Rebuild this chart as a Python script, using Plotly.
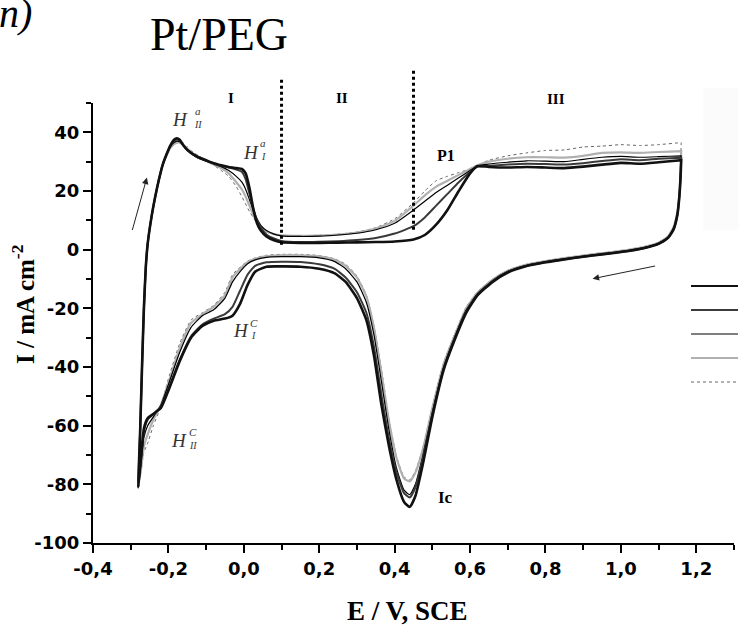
import numpy as np
import plotly.graph_objects as go

# ---------------- data ----------------
E_ANODIC = [-0.280, -0.275, -0.270, -0.265, -0.260, -0.255, -0.245, -0.235, -0.225, -0.215,
            -0.205, -0.195, -0.185, -0.178, -0.170, -0.160, -0.150, -0.140, -0.120, -0.100,
            -0.080, -0.060, -0.040, -0.020, -0.005, 0.005, 0.015, 0.025, 0.035, 0.045,
            0.060, 0.080, 0.100, 0.150, 0.200, 0.250, 0.300, 0.350, 0.400, 0.450,
            0.480, 0.510, 0.540, 0.570, 0.600, 0.620, 0.650, 0.700, 0.750, 0.800,
            0.850, 0.900, 0.950, 1.000, 1.050, 1.100, 1.160]

E_CATHODIC = [1.160, 1.158, 1.155, 1.150, 1.140, 1.125, 1.100, 1.060, 1.000, 0.950,
              0.900, 0.850, 0.800, 0.750, 0.700, 0.660, 0.620, 0.590, 0.560, 0.530,
              0.500, 0.475, 0.455, 0.440, 0.425, 0.405, 0.385, 0.365, 0.345, 0.325,
              0.300, 0.270, 0.240, 0.200, 0.150, 0.100, 0.060, 0.030, 0.010, -0.010,
              -0.030, -0.050, -0.080, -0.110, -0.140, -0.170, -0.200, -0.220, -0.240, -0.255,
              -0.265, -0.272, -0.280]

I1_ANODIC = [-81, -62, -40, -20, -6, 2, 11, 18, 24, 29,
             32.5, 35.5, 37.5, 38, 37.5, 35.5, 34, 33, 31.5, 30.5,
             29.5, 28.8, 28.2, 27.8, 27.5, 26, 21, 14, 9, 6.5,
             4.5, 3.2, 2.5, 2.3, 2.3, 2.4, 2.5, 2.6, 2.8, 3.5,
             5, 8.5, 13.5, 20, 26, 28.5, 28.2, 28, 28.2, 28,
             27.8, 28.3, 29, 29.6, 29.3, 29.8, 30.5]
I1_CATHODIC = [30.5, 24, 18, 12, 7, 4, 2, 0.5, -0.8, -1.6,
               -2.4, -3.3, -4.3, -5.6, -7.8, -11, -15.5, -21.5, -30.5, -41,
               -57, -73, -84, -87.7, -86, -78.5, -67, -53, -36, -24,
               -16.5, -11, -8, -6.5, -5.8, -5.7, -5.8, -7.5, -12, -18.5,
               -22.5, -23.5, -24.2, -26, -30, -38, -48, -54, -56, -57.5,
               -61, -70, -81]

I2_ANODIC = [-81, -62, -40, -20, -6, 2, 11, 18, 24, 29,
             32.5, 35.3, 37, 37.5, 37.2, 35.5, 34, 33, 31.3, 30.3,
             29.3, 28.5, 28, 27.3, 26.5, 24, 19, 14, 10, 7.5,
             5.2, 3.8, 3.0, 2.6, 2.7, 2.9, 3.3, 4, 5.5, 8,
             11, 15, 19, 23, 26.5, 28.3, 28.6, 29, 29.3, 29.2,
             29, 29.5, 30.2, 30.8, 30.5, 31, 31.3]
I2_CATHODIC = [31.3, 24, 18, 12, 7, 4, 2, 0.5, -0.8, -1.6,
               -2.4, -3.3, -4.3, -5.5, -7.6, -10.8, -15.2, -21, -30, -40.5,
               -56, -71, -81, -84.5, -83, -76, -64.5, -49.5, -33, -21.5,
               -14.5, -9.5, -6.5, -5, -4.2, -4.1, -4.3, -5.5, -8.5, -14,
               -19.5, -22, -23.5, -25.5, -29.5, -37.5, -47.5, -53.5, -56, -58,
               -62, -70, -81]

I3_ANODIC = [-81, -62, -40, -20, -6, 2, 11, 18, 24, 29,
             32.3, 35, 36.5, 37, 36.8, 35.5, 34, 32.8, 31.2, 30.2,
             29.3, 28.3, 27, 25, 23, 20.5, 17, 13.5, 10.5, 8.3,
             6.5, 5.3, 4.7, 4.5, 4.6, 5, 5.6, 6.8, 9, 13.5,
             16.5, 19.5, 22, 24.5, 27, 28.6, 29.2, 29.8, 30.3, 30.2,
             30, 30.8, 31.5, 31.8, 31.5, 31.7, 32]
I3_CATHODIC = [32, 25, 18.5, 12.5, 7.5, 4.3, 2.2, 0.7, -0.6, -1.4,
               -2.2, -3.1, -4.1, -5.3, -7.4, -10.5, -15, -20.5, -29.5, -40,
               -55.5, -70, -80, -83.5, -82, -74.5, -61.5, -45, -29, -18,
               -11, -6.5, -4, -2.8, -2.4, -2.4, -2.6, -3.5, -4.8, -7.5,
               -11, -16.5, -20.5, -22.5, -26.5, -35, -46, -53, -57, -60,
               -64, -72, -81]

I4_ANODIC = [-81, -62, -40, -20, -6, 2, 11, 18, 24, 29,
             32, 34.7, 36, 36.5, 36.5, 35.7, 34.5, 33.2, 31.5, 30.3,
             29, 27.8, 26, 23, 20.5, 18, 15, 12, 9.8, 8,
             6.3, 5.3, 4.9, 4.7, 4.8, 5.1, 5.8, 7.2, 9.8, 15,
             18.5, 21.5, 23.5, 25.5, 27.5, 28.8, 30, 31, 31.5, 31.5,
             31.4, 32, 33, 33.2, 33, 33.3, 33.6]
I4_CATHODIC = [33.6, 26, 19, 13, 7.8, 4.5, 2.4, 0.9, -0.4, -1.2,
               -2, -2.9, -3.9, -5.1, -7.2, -10.2, -14.6, -20, -29, -39,
               -54, -68, -76, -79, -78, -71, -58.5, -42, -26.5, -16,
               -9.5, -5.5, -3.4, -2.3, -1.9, -1.9, -2.2, -3.1, -4.3, -6.6,
               -9.5, -15.5, -19.5, -22, -25, -33.5, -45.5, -53, -58, -63,
               -67, -74, -81]

I5_ANODIC = [-81, -62, -40, -20, -6, 2, 11, 18, 24, 29,
             32, 34.5, 35.8, 36.3, 36.8, 36.3, 35, 33.8, 32, 30.5,
             28.8, 27, 25, 21.5, 18, 15.5, 13, 11, 9, 7.5,
             6, 5.2, 4.9, 4.8, 4.9, 5.3, 6, 7.5, 10.5, 16,
             20, 23.5, 25, 26.3, 27.5, 28.8, 30.5, 32, 33, 33.8,
             34, 35, 35.3, 35.8, 35.5, 35.8, 36.5]
I5_CATHODIC = [36.5, 28, 20, 13.5, 8, 4.7, 2.5, 1, -0.3, -1.1,
               -1.9, -2.8, -3.8, -5, -7, -10, -14.3, -19.5, -28.5, -38.5,
               -53.5, -67.5, -75.5, -78.5, -77.5, -70.5, -57.5, -41, -26, -15.5,
               -9, -5, -3.1, -2, -1.6, -1.6, -1.9, -2.8, -3.9, -6,
               -8.5, -14.5, -19, -21.5, -24, -32, -44, -53.5, -60, -66,
               -69, -75, -81]

X_TICKS = [-0.4, -0.2, 0.0, 0.2, 0.4, 0.6, 0.8, 1.0, 1.2]
X_TICK_LABELS = ["-0,4", "-0,2", "0,0", "0,2", "0,4", "0,6", "0,8", "1,0", "1,2"]
Y_TICKS = [-100, -80, -60, -40, -20, 0, 20, 40]
Y_TICK_LABELS = ["-100", "-80", "-60", "-40", "-20", "0", "20", "40"]
X_RANGE = [-0.4, 1.3]
Y_RANGE = [-100, 50]
REGION_BOUNDS = [0.1, 0.45]

# ---------------- styles ----------------
STYLES = [
    dict(color="#111111", width=2.6, dash="solid"),
    dict(color="#3a3a3a", width=2.0, dash="solid"),
    dict(color="#000000", width=1.2, dash="solid"),
    dict(color="#b0b0b0", width=2.2, dash="solid"),
    dict(color="#666666", width=1.0, dash="dot"),
]
SERIES = [
    (I1_ANODIC, I1_CATHODIC),
    (I2_ANODIC, I2_CATHODIC),
    (I3_ANODIC, I3_CATHODIC),
    (I4_ANODIC, I4_CATHODIC),
    (I5_ANODIC, I5_CATHODIC),
]
for a, c in SERIES:
    assert len(a) == len(E_ANODIC) and len(c) == len(E_CATHODIC)

# plot area in pixels
W, H = 738, 635
ML, MR, MT, MB = 93, 4, 103, 92
PW, PH = W - ML - MR, H - MT - MB


def px(p):  # pixel x -> paper
    return (p - ML) / PW


def py(p):  # pixel y -> paper
    return (H - MB - p) / PH


def dx(v):  # data x -> paper
    return (v - X_RANGE[0]) / (X_RANGE[1] - X_RANGE[0])


def dy(v):  # data y -> paper
    return (v - Y_RANGE[0]) / (Y_RANGE[1] - Y_RANGE[0])


fig = go.Figure()
for (a, c), st in reversed(list(zip(SERIES, STYLES))):
    fig.add_trace(go.Scatter(
        x=E_ANODIC + E_CATHODIC, y=a + c, mode="lines",
        line=dict(color=st["color"], width=st["width"], dash=st["dash"],
                  shape="spline", smoothing=0.5),
        showlegend=False, hoverinfo="skip"))

shapes = []
# very faint grey patch on the right
shapes.append(dict(type="rect", xref="paper", yref="paper", x0=px(703), x1=px(740),
                   y0=py(230), y1=py(88), fillcolor="#fbfbfb", line=dict(width=0),
                   layer="below"))
# dotted region boundaries
for xb, ybot, ytop in [(REGION_BOUNDS[0], 1.7, 58.7), (REGION_BOUNDS[1], 6.8, 61.0)]:
    shapes.append(dict(type="line", xref="paper", yref="paper",
                       x0=dx(xb), x1=dx(xb), y0=dy(ybot), y1=dy(ytop),
                       line=dict(color="black", width=3, dash="dot")))
# legend sample lines
for st, ypx in zip(STYLES, [286, 310, 334, 358, 382]):
    shapes.append(dict(type="line", xref="paper", yref="paper",
                       x0=px(691), x1=px(742), y0=py(ypx), y1=py(ypx),
                       line=dict(color=st["color"], width=min(st["width"], 2.2) if st["dash"] == "solid" else 1.0,
                                 dash=st["dash"])))

SERIF = "Liberation Serif"
ann = []


def txt(x, y, text, size, bold=False, italic=False, color="black", angle=0):
    t = text
    if italic:
        t = "<i>" + t + "</i>"
    if bold:
        t = "<b>" + t + "</b>"
    ann.append(dict(xref="paper", yref="paper", x=px(x), y=py(y), text=t, showarrow=False,
                    xanchor="center", yanchor="middle", textangle=angle,
                    font=dict(family=SERIF, size=size, color=color)))


txt(219, 34, "Pt/PEG", 46)
txt(15, 14, "n)", 40, italic=True)
txt(231, 98, "I", 15, bold=True)
txt(342, 98, "II", 15, bold=True)
txt(556, 99, "III", 15, bold=True)
txt(446, 155, "P1", 16, bold=True)
txt(445, 497, "Ic", 17, bold=True)
# H labels
GR = "#333333"
txt(180, 119, "H", 19, italic=True, color=GR)
txt(198, 111, "a", 11, italic=True, color=GR)
txt(198, 124, "II", 10, italic=True, color=GR)
txt(251, 152, "H", 19, italic=True, color=GR)
txt(263, 143, "a", 11, italic=True, color=GR)
txt(263, 157, "I", 10, italic=True, color=GR)
txt(241, 330, "H", 19, italic=True, color=GR)
txt(254, 323, "C", 11, italic=True, color=GR)
txt(253, 335, "I", 10, italic=True, color=GR)
txt(179, 440, "H", 19, italic=True, color=GR)
txt(193, 432, "C", 11, italic=True, color=GR)
txt(193, 445, "II", 10, italic=True, color=GR)
# axis titles
txt(407, 611, "E / V, SCE", 27, bold=True)
txt(23, 305, "I / mA cm<sup>-2</sup>", 25, bold=True, angle=-90)

# arrows
ann.append(dict(xref="x", yref="y", x=-0.257, y=24.6, ax=-15, ay=54, text="",
                showarrow=True, arrowhead=2, arrowsize=1.3, arrowwidth=1, arrowcolor="#222"))
ann.append(dict(xref="x", yref="y", x=0.925, y=-9.9, ax=64, ay=-13, text="",
                showarrow=True, arrowhead=2, arrowsize=1.3, arrowwidth=1, arrowcolor="#222"))

TICKFONT = dict(family="DejaVu Sans", size=18, color="black", weight="bold")
fig.update_layout(
    width=W, height=H, margin=dict(l=ML, r=MR, t=MT, b=MB, pad=0),
    paper_bgcolor="white", plot_bgcolor="white",
    shapes=shapes, annotations=ann, showlegend=False,
    xaxis=dict(range=X_RANGE, showgrid=False, zeroline=False, showline=True,
               linecolor="black", linewidth=2, ticks="outside", ticklen=8, tickwidth=2,
               tickcolor="black", tickmode="array", tickvals=X_TICKS, ticktext=X_TICK_LABELS,
               tickfont=TICKFONT,
               minor=dict(ticks="outside", ticklen=5, tickwidth=1.5, tickcolor="black",
                          tickvals=list(np.round(np.arange(-0.3, 1.31, 0.2), 2)))),
    yaxis=dict(range=Y_RANGE, showgrid=False, zeroline=False, showline=True,
               linecolor="black", linewidth=2, ticks="outside", ticklen=8, tickwidth=2,
               tickcolor="black", tickmode="array", tickvals=Y_TICKS, ticktext=Y_TICK_LABELS,
               tickfont=TICKFONT,
               minor=dict(ticks="outside", ticklen=5, tickwidth=1.5, tickcolor="black",
                          tickvals=list(range(-90, 51, 20)))),
)

fig.write_html("out.html")
